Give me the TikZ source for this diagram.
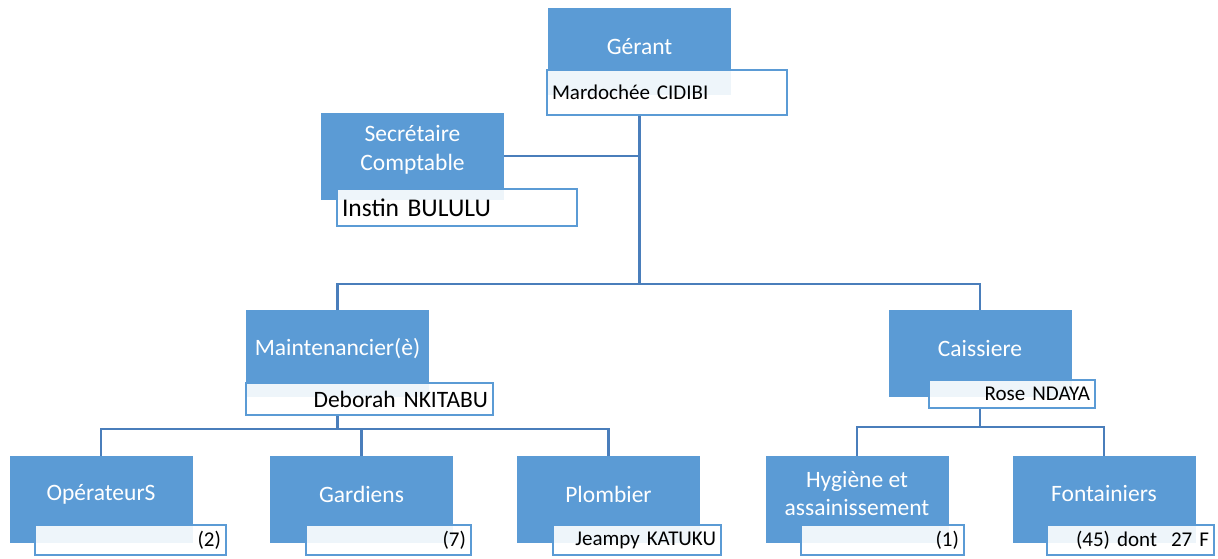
\documentclass[tikz,border=0pt]{standalone}
\usepackage{fontspec}
\setmainfont{Carlito}
\usetikzlibrary{positioning}
\definecolor{roleblue}{HTML}{5B9BD5}
\definecolor{linkblue}{HTML}{4A7EBB}
\tikzset{role/.style = {fill=roleblue, minimum width=183, minimum height=87, inner sep=0pt},
         roletext/.style = {text=white, align=center, font=\fontsize{23.5}{28.5}\selectfont},
         person/.style = {draw=roleblue, line width=2pt, fill=white, fill opacity=0.9,
                          text opacity=1, inner xsep=5pt, inner ysep=0pt,
                          font=\fontsize{21}{25}\selectfont},
         link/.style = {draw=linkblue, line width=2.5pt}}

\begin{document}
\begin{tikzpicture}[x=1pt, y=-1pt]
    \useasboundingbox (0, 0) rectangle (1218, 558);
    % top
    \node [role, label={[roletext, yshift=5pt]center:Gérant}] (gerant) at (639.5, 51.5) {};
    \node [person, text width=230, minimum height=45, align=left] (gerantname) at (667, 92.5) {Mardochée CIDIBI};
    \node [role, label={[roletext, yshift=6pt]center:{Secrétaire\\Comptable}}] (secretaire) at (412.5, 156) {};
    \node [person, text width=230, minimum height=37, align=left, font=\fontsize{25.5}{30}\selectfont] (secretairename) at (457, 207.5) {Instin BULULU};
    % middle
    \node [role, label={[roletext, yshift=5pt]center:Maintenancier(è)}] (maint) at (337.5, 353.5) {};
    \node [person, text width=237, minimum height=32, align=right, font=\fontsize{23.5}{28}\selectfont] (maintname) at (369.5, 399) {Deborah NKITABU};
    \node [role, label={[roletext, yshift=5pt]center:Caissiere}] (caisse) at (980, 353.5) {};
    \node [person, text width=156, minimum height=28, align=right] (caissename) at (1012, 394) {Rose NDAYA};
    % bottom
    \node [role, label={[roletext, yshift=5pt]center:OpérateurS}] (operateurs) at (101, 499.5) {};
    \node [person, text width=181, minimum height=30, align=right] (operateursname) at (130.5, 540) {(2)};
    \node [role, label={[roletext, yshift=5pt]center:Gardiens}] (gardiens) at (361.5, 499.5) {};
    \node [person, text width=155, minimum height=30, align=right] (gardiensname) at (388.5, 540) {(7)};
    \node [role, label={[roletext, yshift=5pt]center:Plombier}] (plombier) at (608.5, 499.5) {};
    \node [person, text width=158, minimum height=30, align=right] (plombiername) at (637, 540) {Jeampy KATUKU};
    \node [role, label={[roletext, yshift=6pt]center:{Hygiène et\\assainissement}}] (hygiene) at (857, 499.5) {};
    \node [person, text width=153, minimum height=30, align=right] (hygienename) at (882.5, 540) {(1)};
    \node [role, label={[roletext, yshift=6pt]center:Fontainiers}] (fontainiers) at (1104, 499.5) {};
    \node [person, text width=157, minimum height=30, align=right] (fontainiersname) at (1130.5, 540) {(45) dont~ 27 F};
    % connectors
    \coordinate (topbus) at (639.5, 284);
    \coordinate (maintbus) at (337.5, 429);
    \coordinate (caissebus) at (980, 427);
    \draw [link] (gerantname.south -| gerant) -- (topbus);
    \draw [link] (secretaire.east) -- (secretaire.east -| topbus);
    \draw [link] (maint.north) |- (topbus) -| (caisse.north);
    \draw [link] (maint |- maintname.south) -- (maintbus);
    \draw [link] (operateurs.north) |- (maintbus) -| (plombier.north);
    \draw [link] (gardiens.north) -- (gardiens.north |- maintbus);
    \draw [link] (caisse |- caissename.south) -- (caissebus);
    \draw [link] (hygiene.north) |- (caissebus) -| (fontainiers.north);
  \end{tikzpicture}
\end{document}
